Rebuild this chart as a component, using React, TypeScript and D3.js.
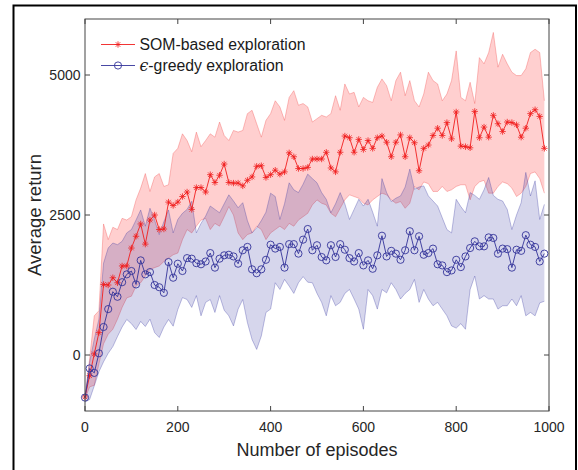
import React from "react";
import * as d3 from "d3";

// Episodes are sampled every 10 steps (0, 10, ..., 990)
const EPISODE_STEP = 10;

const somMean = [
  -750, -370, 20, 400, 1260, 1250, 1380, 1290, 1590, 1590,
  1910, 2120, 2340, 1980, 2410, 2500, 2240, 2250, 2730, 2670,
  2730, 2830, 2910, 2600, 2990, 2990, 2910, 3220, 3080, 3210,
  3410, 3080, 3070, 3070, 3020, 3120, 3180, 3370, 3380, 3170,
  3220, 3300, 3230, 3270, 3610, 3540, 3330, 3330, 3350, 3500,
  3500, 3500, 3620, 3340, 3270, 3620, 3910, 3880, 3620, 3850,
  3670, 3830, 3690, 3880, 3910, 3800, 3540, 3800, 3930, 3540,
  3880, 3790, 3290, 3690, 3750, 3920, 4050, 3920, 4150, 3860,
  4340, 3730, 3720, 3700, 4350, 3880, 4070, 3890, 4280, 4130,
  3990, 4160, 4150, 4110, 3890, 4050, 4310, 4380, 4260, 3690,
];

const somUpper = [
  -750, -70, 700, 790, 2340, 2060, 2280, 2240, 2440, 2410,
  2470, 2770, 2980, 3240, 2920, 3180, 3240, 3010, 3040, 3600,
  3690, 3950, 3830, 3630, 3980, 3720, 3830, 3950, 3890, 4160,
  3920, 3830, 4010, 3980, 4010, 4310, 4370, 4130, 3890, 4190,
  4310, 4540, 4430, 4190, 4600, 4720, 4460, 4490, 4430, 4160,
  4220, 4280, 4250, 4310, 4630, 4370, 4840, 4660, 4690, 4430,
  4600, 4540, 4510, 4780, 4930, 4810, 4540, 4900, 5050, 4630,
  4900, 4540, 4430, 4660, 5050, 4900, 4840, 4540, 4660, 4900,
  5430, 4600, 4540, 4870, 4490, 5310, 5200, 5400, 5760, 5140,
  5370, 5200, 5050, 4990, 4990, 5110, 5400, 5460, 5400, 4540,
];

const somLower = [
  -780, -570, -540, -160, 200, 370, 460, 640, 850, 1020,
  1050, 1230, 1290, 1410, 1530, 1560, 1590, 1670, 1730, 1790,
  1820, 2060, 2240, 2180, 2300, 2410, 2440, 2240, 2350, 2300,
  2470, 2650, 2500, 2180, 2060, 2150, 2180, 2300, 2240, 2060,
  2180, 2240, 2300, 2240, 2350, 2300, 2410, 2470, 2530, 2680,
  2770, 2710, 2680, 2530, 2470, 2620, 2770, 2860, 2830, 2800,
  2710, 2680, 2770, 2830, 2890, 2860, 2770, 2710, 2740, 2620,
  2710, 3010, 2950, 3090, 3060, 2920, 2920, 3010, 2920, 2950,
  3010, 3040, 3040, 2770, 3010, 3090, 3120, 2890, 2890, 3010,
  3090, 3060, 2980, 2830, 2890, 3010, 3240, 3270, 3150, 2890,
];

const greedyMean = [
  -760, -240, -320, 30, 500, 820, 1130, 1040, 1300, 1440,
  1500, 1260, 1690, 1440, 1480, 1250, 1210, 1110, 1660, 1380,
  1630, 1500, 1730, 1720, 1640, 1620, 1670, 1820, 1560, 1720,
  1780, 1790, 1760, 1630, 1870, 1930, 1530, 1460, 1530, 1700,
  1970, 1900, 1930, 1560, 1980, 1980, 1810, 2060, 2250, 1870,
  1960, 1750, 1690, 1960, 1750, 1980, 1880, 1730, 1670, 1820,
  1600, 1690, 1540, 1780, 2130, 1760, 1860, 1810, 1700, 1870,
  2210, 1870, 2120, 1790, 1820, 1900, 1620, 1600, 1480, 1510,
  1700, 1570, 1760, 1910, 2030, 1940, 1940, 2100, 2090, 1810,
  1900, 1890, 1560, 1880, 1860, 2140, 1970, 1930, 1670, 1810,
];

const greedyUpper = [
  -750, -130, 280, 640, 1640, 1910, 2000, 1970, 2030, 2180,
  2240, 2410, 2590, 2300, 2620, 2410, 2150, 2380, 2590, 2180,
  2420, 2530, 2600, 2745, 2180, 2350, 2480, 2660, 2600, 2540,
  2700, 2860, 2750, 2630, 2720, 2400, 2180, 2270, 2400, 2550,
  2890, 2830, 2420, 2700, 3075, 2950, 2900, 3050, 3230, 3150,
  3075, 2900, 2780, 2540, 2700, 2900, 2700, 2420, 2600, 2780,
  2660, 2780, 2550, 2300, 3150, 2900, 2740, 2800, 2840, 3000,
  3320, 2960, 3000, 3020, 2840, 2750, 2660, 2450, 2240, 2180,
  2780, 2650, 2540, 2900, 2850, 2780, 2950, 3170, 2850, 2780,
  2750, 2600, 2240, 2500, 2720, 3260, 2840, 3110, 2420, 2690,
];

const greedyLower = [
  -840, -795, -550, -300, -120, 30, 150, 330, 500, 634,
  560, 455, 600, 509, 640, 400, 312, 500, 634, 515,
  813, 1025, 991, 850, 1060, 700, 940, 990, 760, 1060,
  800, 700, 520, 820, 991, 580, 277, 100, 340, 760,
  820, 1290, 1170, 1350, 1230, 1100, 1290, 1400, 1300, 1290,
  1100, 940, 700, 1060, 880, 940, 1100, 1170, 1000, 820,
  460, 1170, 1060, 820, 1170, 1110, 1290, 1170, 1000, 1100,
  1170, 1350, 940, 1170, 1000, 880, 940, 820, 700, 520,
  480, 560, 460, 1170, 1410, 1000, 1060, 1000, 1000, 820,
  880, 880, 1000, 880, 1060, 700, 760, 700, 930, 960,
];

const xTicks = [0, 200, 400, 600, 800, 1000];
const yTicks = [0, 2500, 5000];

const seriesNames = ["SOM-based exploration", "-greedy exploration"];

const W = 578;
const H = 470;
const plot = { left: 85, right: 549, top: 19, bottom: 411 };

const RED = "#f01e1e";
const BLUE = "#33339a";
const FONT = "'Liberation Sans', Arial, Helvetica, sans-serif";

const x = d3.scaleLinear().domain([0, 1000]).range([plot.left, plot.right]);
const y = d3.scaleLinear().domain([-1000, 6000]).range([plot.bottom, plot.top]);

const ep = (i: number) => i * EPISODE_STEP;

function bandPath(upper: number[], lower: number[]) {
  const area = d3
    .area<number>()
    .x((_, i) => x(ep(i)))
    .y0((_, i) => y(lower[i]))
    .y1((d) => y(d));
  return area(upper) || "";
}

function linePath(values: number[]) {
  const line = d3
    .line<number>()
    .x((_, i) => x(ep(i)))
    .y((d) => y(d));
  return line(values) || "";
}

function asterisk(cx: number, cy: number, s: number) {
  const d = s * 0.7071;
  return `M${cx - s},${cy}L${cx + s},${cy}M${cx},${cy - s}L${cx},${cy + s}` +
    `M${cx - d},${cy - d}L${cx + d},${cy + d}M${cx - d},${cy + d}L${cx + d},${cy - d}`;
}

export default function App() {
  const starSize = 3.2;
  const circleR = 3.6;
  return (
    <svg
      width={W}
      height={H}
      style={{ position: "absolute", left: 0, top: 0, background: "#fff" }}
      fontFamily={FONT}
    >
      <rect x={0} y={0} width={W} height={H} fill="#fff" />
      {/* outer frame */}
      <rect x={13.5} y={5.5} width={562.5} height={480} fill="none" stroke="#000" strokeWidth={2} />

      {/* shaded spread bands */}
      <path d={bandPath(somUpper, somLower)} fill="rgba(255,30,30,0.21)" stroke="none" />
      <path d={linePath(somUpper)} fill="none" stroke="rgba(240,60,60,0.45)" strokeWidth={0.7} />
      <path d={linePath(somLower)} fill="none" stroke="rgba(240,60,60,0.45)" strokeWidth={0.7} />
      <path d={bandPath(greedyUpper, greedyLower)} fill="rgba(51,51,160,0.2)" stroke="none" />
      <path d={linePath(greedyUpper)} fill="none" stroke="rgba(51,51,160,0.45)" strokeWidth={0.7} />
      <path d={linePath(greedyLower)} fill="none" stroke="rgba(51,51,160,0.45)" strokeWidth={0.7} />

      {/* mean curves */}
      <path d={linePath(somMean)} fill="none" stroke={RED} strokeWidth={0.9} />
      <path
        d={somMean.map((v, i) => asterisk(x(ep(i)), y(v), starSize)).join("")}
        fill="none"
        stroke={RED}
        strokeWidth={0.8}
      />
      <path d={linePath(greedyMean)} fill="none" stroke={BLUE} strokeWidth={0.9} />
      {greedyMean.map((v, i) => (
        <circle key={i} cx={x(ep(i))} cy={y(v)} r={circleR} fill="none" stroke={BLUE} strokeWidth={0.9} />
      ))}

      {/* axes box */}
      <rect
        x={plot.left}
        y={plot.top}
        width={plot.right - plot.left}
        height={plot.bottom - plot.top}
        fill="none"
        stroke="#444"
        strokeWidth={1}
      />
      {xTicks.map((t) => (
        <g key={`x${t}`}>
          <line x1={x(t)} x2={x(t)} y1={plot.bottom} y2={plot.bottom - 5} stroke="#444" />
          <line x1={x(t)} x2={x(t)} y1={plot.top} y2={plot.top + 5} stroke="#444" />
          <text x={x(t)} y={432} textAnchor="middle" fontSize={14} fill="#262626">
            {t}
          </text>
        </g>
      ))}
      {yTicks.map((t) => (
        <g key={`y${t}`}>
          <line x1={plot.left} x2={plot.left + 5} y1={y(t)} y2={y(t)} stroke="#444" />
          <line x1={plot.right} x2={plot.right - 5} y1={y(t)} y2={y(t)} stroke="#444" />
          <text x={80.5} y={y(t) + 5} textAnchor="end" fontSize={14} fill="#262626">
            {t}
          </text>
        </g>
      ))}

      <text x={(plot.left + plot.right) / 2} y={456} textAnchor="middle" fontSize={18} fill="#262626">
        Number of episodes
      </text>
      <text
        transform={`translate(41,${(plot.top + plot.bottom) / 2}) rotate(-90)`}
        textAnchor="middle"
        fontSize={18.5}
        fill="#262626"
      >
        Average return
      </text>

      {/* legend */}
      <line x1={101} x2={135} y1={44.5} y2={44.5} stroke={RED} strokeWidth={0.9} />
      <path d={asterisk(118, 44.5, starSize)} fill="none" stroke={RED} strokeWidth={0.8} />
      <text x={139.5} y={50} fontSize={15.8} fill="#1a1a1a">
        {seriesNames[0]}
      </text>
      <line x1={101} x2={135} y1={65.5} y2={65.5} stroke={BLUE} strokeWidth={0.9} />
      <circle cx={118} cy={65.5} r={circleR} fill="none" stroke={BLUE} strokeWidth={0.9} />
      <text x={139.5} y={71} fontSize={15.8} fill="#1a1a1a">
        <tspan fontFamily="'DejaVu Serif', 'Liberation Serif', serif" fontStyle="italic">
          ϵ
        </tspan>
        {seriesNames[1]}
      </text>
    </svg>
  );
}
